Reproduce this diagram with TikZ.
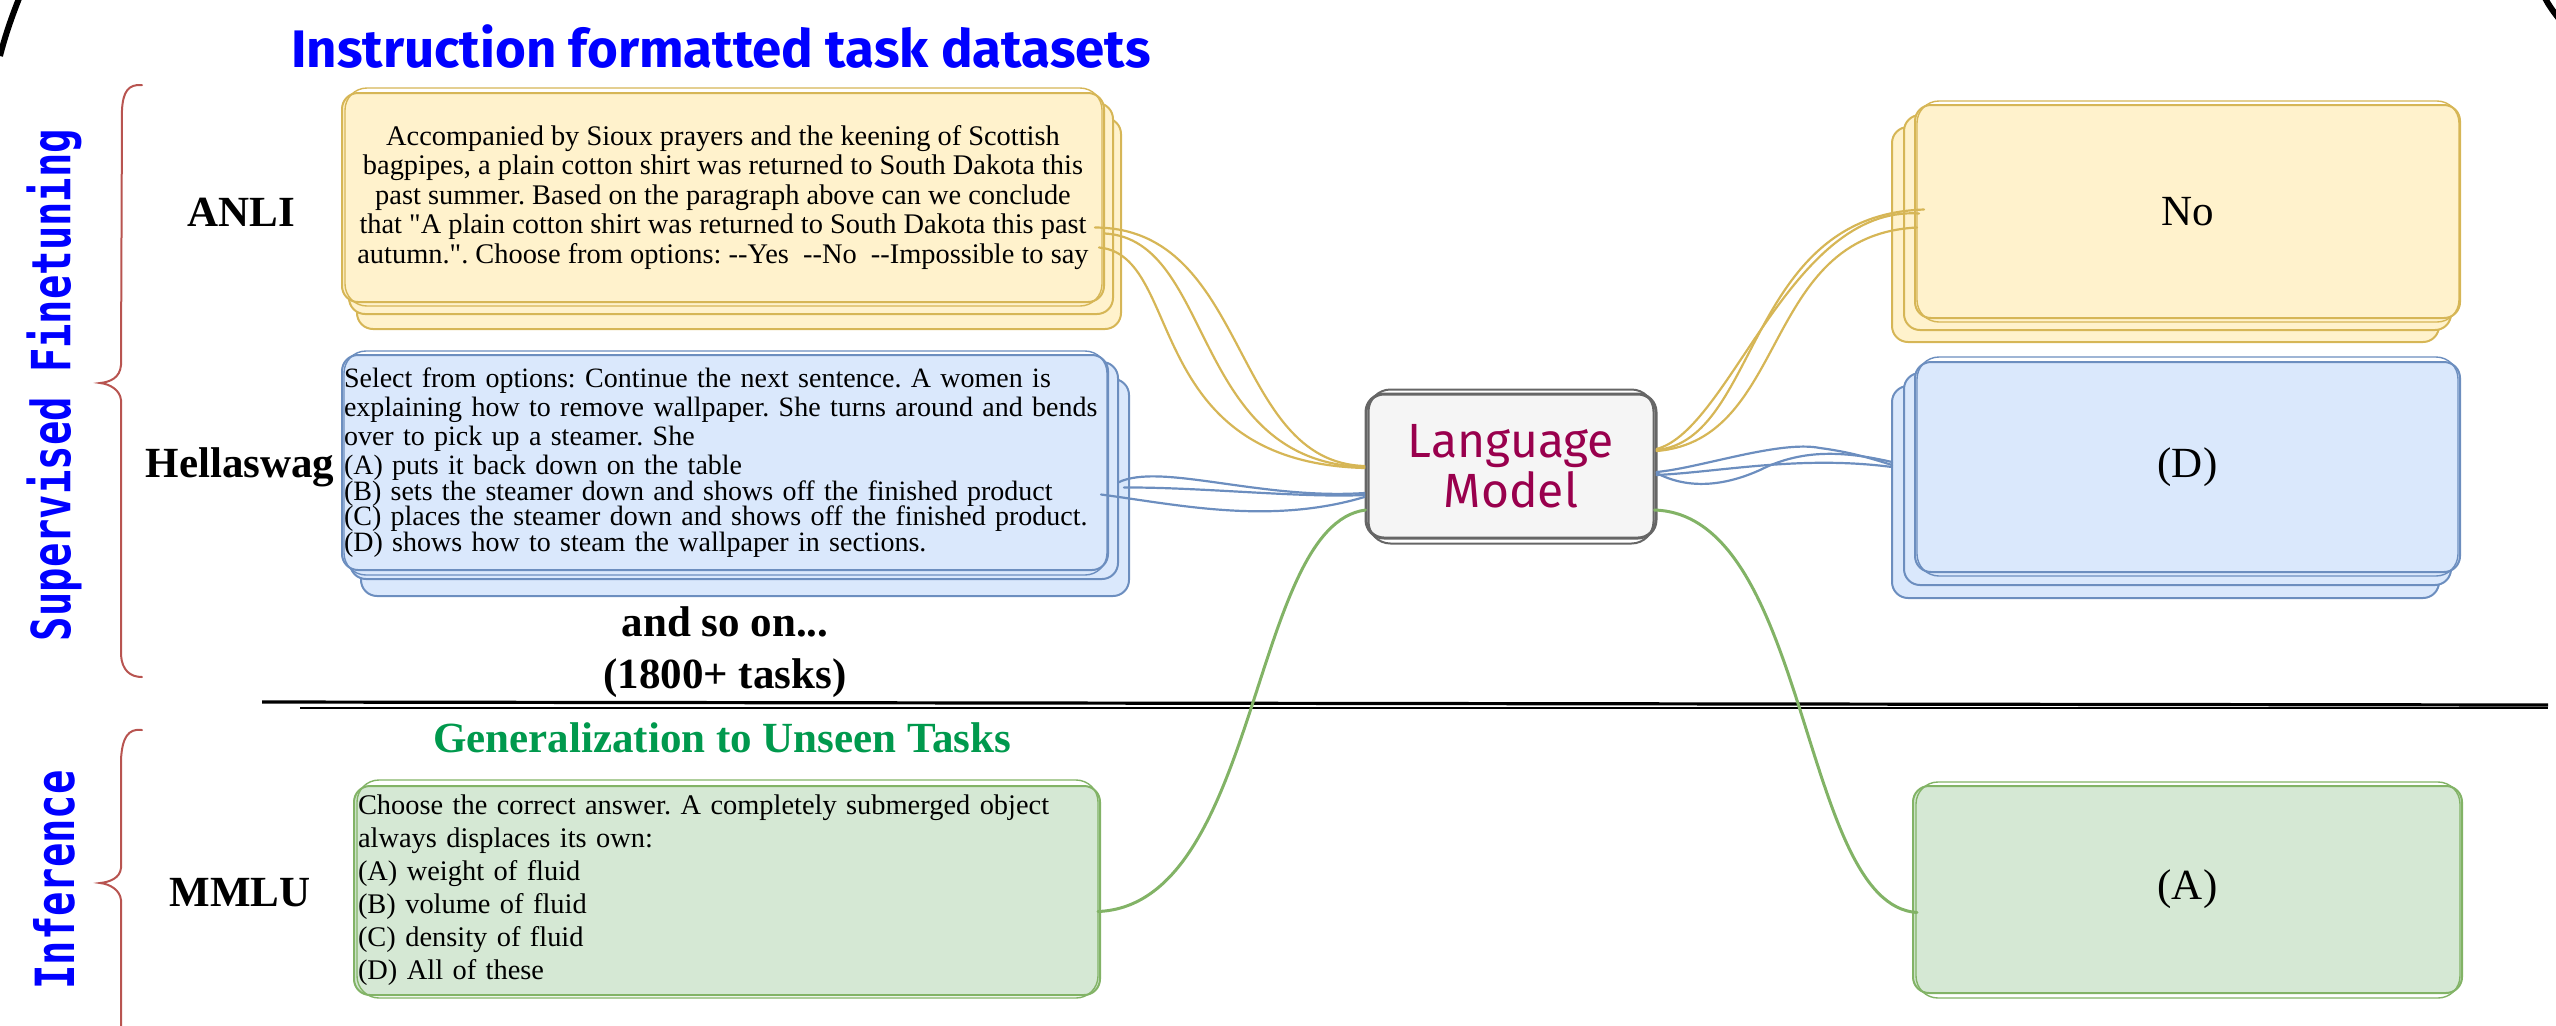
\documentclass[tikz,border=0pt]{standalone}
\usepackage{fontspec}
\usepackage{graphicx}
\setmainfont{Liberation Serif}[Ligatures=TeXOff]
\newfontfamily\sidefont{DejaVu Sans Mono}
\newfontfamily\headfont{Fira Sans}
\usetikzlibrary{backgrounds}
\frenchspacing

\definecolor{ylwfill}{HTML}{FFF2CC}
\definecolor{ylwline}{HTML}{D6B656}
\definecolor{bluefill}{HTML}{DAE8FC}
\definecolor{blueline}{HTML}{6C8EBF}
\definecolor{grnfill}{HTML}{D5E8D4}
\definecolor{grnline}{HTML}{82B366}
\definecolor{lmfill}{HTML}{F5F5F5}
\definecolor{lmline}{HTML}{666666}
\definecolor{bracered}{HTML}{B85450}
\definecolor{lmtext}{HTML}{99004D}
\definecolor{gentext}{HTML}{00994D}
\definecolor{headblue}{HTML}{0000FF}

\begin{document}
\begin{tikzpicture}[x=0.5pt,y=-0.5pt,
  card/.style={draw, line width=1pt, rounded corners=8pt, inner xsep=2pt, inner ysep=0pt},
  ylwcard/.style={card, draw=ylwline, fill=ylwfill},
  bluecard/.style={card, draw=blueline, fill=bluefill},
  grncard/.style={card, draw=grnline, fill=grnfill},
  overstroke/.style={draw=#1, line width=0.7pt, rounded corners=11pt},
  body/.style={font=\fontsize{14.2}{14.75}\selectfont},
  tag/.style={font=\fontsize{21.5}{26}\selectfont\bfseries},
  ans/.style={font=\fontsize{21.5}{26}\selectfont},
  sidelab/.style={rotate=90, text=headblue, font=\sidefont\bfseries\fontsize{27}{27}\selectfont, inner sep=0pt},
  brace/.style={draw=bracered, line width=1pt, line cap=round},
  strand/.style={line width=1.1pt, line cap=round},
  vine/.style={draw=grnline, line width=1.5pt, line cap=round},
]
\useasboundingbox (0,0) rectangle (2556,1025);

% frame corners
\draw[line width=3pt] (0,56) .. controls (5,36) and (12,16) .. (20,-4);
\draw[line width=3pt] (2544,-4) .. controls (2548,4) and (2552,10) .. (2560,20);

% headings
\node[anchor=base, text=headblue, font=\headfont\bfseries\fontsize{26.4}{26.4}\selectfont] (title) at (721,67) {Instruction formatted task datasets};
\node[anchor=base, tag, text=gentext] (gen) at (722,752) {Generalization to Unseen Tasks};

% side labels and braces
\node[sidelab] (sft) at (54,385) {\scalebox{0.75}[1]{Supervised Finetuning}};
\node[sidelab] (inf) at (54,880) {\scalebox{0.75}[1]{Inference}};
\draw[brace] (142,85) .. controls (128,84) and (123,92) .. (122,110) -- (121,365)
  .. controls (120,378) and (110,382) .. (100,383) .. controls (110,384) and (120,390) .. (121,400)
  -- (121,655) .. controls (122,670) and (130,677) .. (142,677);
\draw[brace] (142,730) .. controls (128,728) and (122,738) .. (121,760) -- (121,868)
  .. controls (120,878) and (110,882) .. (100,883) .. controls (110,884) and (120,890) .. (121,900)
  -- (121,1030);

% dataset labels
\node[tag] (anlilab) at (241,212) {ANLI};
\node[tag] (hslab) at (240,467) {Hellaswag};
\node[tag] (mmlulab) at (240,893) {MMLU};
\node[tag, align=center] (more) at (725,652) {and so on...\\(1800+ tasks)};

% divider between finetuning and inference
\draw[line width=1.6pt] (262,702) -- (2548,705);
\draw[line width=0.7pt] (300,708) -- (2548,708);

% instruction cards
\node[ylwcard, body, minimum width=381pt, minimum height=104.5pt, align=center] (anli) at (723,197.5)
  {Accompanied by Sioux prayers and the keening of Scottish\\
   bagpipes, a plain cotton shirt was returned to South Dakota this\\
   past summer. Based on the paragraph above can we conclude\\
   that "A plain cotton shirt was returned to South Dakota this past\\
   autumn.". Choose from options: --Yes\ \ --No\ \ --Impossible to say};
\node[bluecard, font=\fontsize{14}{14.5}\selectfont, inner xsep=1pt, minimum width=383pt, minimum height=107.5pt, text width=381pt, align=left] (hs) at (725,462.5)
  {Select from options: Continue the next sentence. A women is\\
   \mbox{explaining how to remove wallpaper. She turns around and bends}\\
   over to pick up a steamer. She\\
   (A) puts it back down on the table\\[-1.75pt]
   (B) sets the steamer down and shows off the finished product\\[-1.75pt]
   (C) places the steamer down and shows off the finished product.\\[-1.75pt]
   (D) shows how to steam the wallpaper in sections.};
\node[grncard, font=\fontsize{14.2}{16.5}\selectfont, minimum width=373pt, minimum height=104.5pt, text width=369pt, align=left] (mmlu) at (727,890.5)
  {Choose the correct answer. A completely submerged object\\
   always displaces its own:\\
   (A) weight of fluid\\
   (B) volume of fluid\\
   (C) density of fluid\\
   (D) All of these};

% model
\node[draw=lmline, fill=lmfill, line width=1.5pt, rounded corners=9pt, minimum width=145pt, minimum height=72pt,
  align=center, text=lmtext, font=\headfont\fontsize{24}{25}\selectfont] (lm) at (1511,466) {Language\\Model};

% answer cards
\node[ylwcard, ans, minimum width=272.5pt, minimum height=106.5pt] (no) at (2187.5,211.5) {No};
\node[bluecard, ans, minimum width=272.5pt, minimum height=105pt] (dans) at (2187.5,467) {(D)};
\node[grncard, ans, minimum width=274.5pt, minimum height=103.5pt] (aans) at (2187.5,889.5) {(A)};

% stacked sheets behind the cards
\begin{scope}[on background layer]
  \path[ylwcard] ([shift={(16,26)}]anli.north west) rectangle ([shift={(16,26)}]anli.south east);
  \path[ylwcard] ([shift={(8,11)}]anli.north west) rectangle ([shift={(8,11)}]anli.south east);
  \path[bluecard] ([shift={(20,25)}]hs.north west) rectangle ([shift={(20,25)}]hs.south east);
  \path[bluecard] ([shift={(9,8)}]hs.north west) rectangle ([shift={(9,8)}]hs.south east);
  \path[ylwcard] ([shift={(-22,23)}]no.north west) rectangle ([shift={(-22,23)}]no.south east);
  \path[ylwcard] ([shift={(-10,11)}]no.north west) rectangle ([shift={(-10,11)}]no.south east);
  \path[bluecard] ([shift={(-22,25)}]dans.north west) rectangle ([shift={(-22,25)}]dans.south east);
  \path[bluecard] ([shift={(-10,12)}]dans.north west) rectangle ([shift={(-10,12)}]dans.south east);
\end{scope}

% second, looser pencil strokes
\draw[overstroke=ylwline] ([shift={(4,-4)}]anli.north west) rectangle ([shift={(-3,3)}]anli.south east);
\draw[overstroke=blueline] ([shift={(3,-3)}]hs.north west) rectangle ([shift={(-2,4)}]hs.south east);
\draw[overstroke=grnline] ([shift={(4,-5)}]mmlu.north west) rectangle ([shift={(-3,2)}]mmlu.south east);
\draw[overstroke=ylwline] ([shift={(3,-3)}]no.north west) rectangle ([shift={(-2,3)}]no.south east);
\draw[overstroke=blueline] ([shift={(3,-4)}]dans.north west) rectangle ([shift={(-3,3)}]dans.south east);
\draw[overstroke=grnline] ([shift={(4,-3)}]aans.north west) rectangle ([shift={(-3,4)}]aans.south east);
\draw[overstroke=lmline, line width=1pt] ([shift={(4,-3)}]lm.north west) rectangle ([shift={(-4,4)}]lm.south east);

% ANLI -> model
\draw[strand, ylwline] ([shift={(-10,30)}]anli.east) .. controls (1250,228) and (1230,462) .. ([shift={(0,0)}]lm.west);
\draw[strand, ylwline] ([shift={(0,36)}]anli.east) .. controls (1215,240) and (1190,462) .. ([shift={(0,1)}]lm.west);
\draw[strand, ylwline] ([shift={(-6,50)}]anli.east) .. controls (1185,255) and (1140,462) .. ([shift={(0,2)}]lm.west);
% model -> No
\draw[strand, ylwline] ([shift={(-1,-16)}]lm.east) .. controls (1760,440) and (1745,215) .. ([shift={(10,-2)}]no.west);
\draw[strand, ylwline] ([shift={(-1,-15)}]lm.east) .. controls (1790,440) and (1760,235) .. ([shift={(3,16)}]no.west);
\draw[strand, ylwline] ([shift={(-1,-17)}]lm.east) .. controls (1730,430) and (1790,205) .. ([shift={(5,2)}]no.west);

% Hellaswag -> model
\draw[strand, blueline] ([shift={(9,20)}]hs.east) .. controls (1160,462) and (1260,500) .. ([shift={(0,27)}]lm.west);
\draw[strand, blueline] ([shift={(15,25)}]hs.east) .. controls (1200,487) and (1300,498) .. ([shift={(0,29)}]lm.west);
\draw[strand, blueline] ([shift={(-8,32)}]hs.east) .. controls (1180,505) and (1270,525) .. ([shift={(0,31)}]lm.west);
% model -> (D)
\draw[strand, blueline] ([shift={(-1,7)}]lm.east) .. controls (1685,488) and (1720,488) .. (1760,470)
  .. controls (1800,450) and (1840,450) .. ([shift={(-22,-5)}]dans.west);
\draw[strand, blueline] ([shift={(-1,9)}]lm.east) .. controls (1720,472) and (1800,455) .. ([shift={(-22,0)}]dans.west);
\draw[strand, blueline] ([shift={(-1,6)}]lm.east) .. controls (1700,468) and (1780,440) .. (1820,448)
  .. controls (1850,452) and (1870,458) .. ([shift={(-22,-2)}]dans.west);

% MMLU -> model -> (A)
\draw[vine] ([shift={(-3,21)}]mmlu.east) .. controls (1260,905) and (1250,525) .. ([shift={(1,44)}]lm.west);
\draw[vine] ([shift={(-3,44)}]lm.east) .. controls (1810,515) and (1800,905) .. ([shift={(5,23)}]aans.west);
\end{tikzpicture}
\end{document}
